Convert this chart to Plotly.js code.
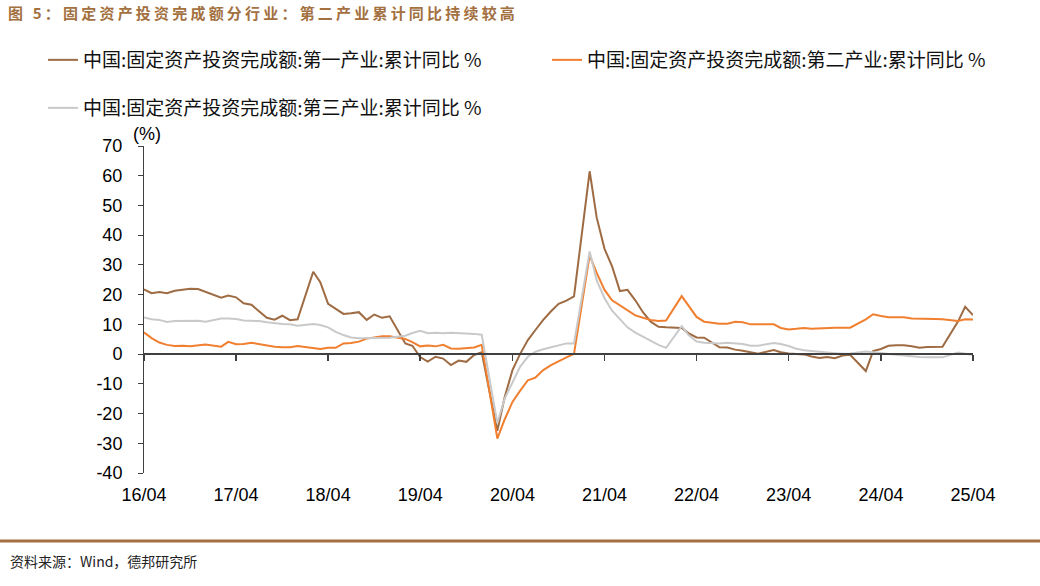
<!DOCTYPE html>
<html>
<head>
<meta charset="utf-8">
<script src="https://cdn.plot.ly/plotly-3.0.1.min.js"></script>
<style>
html, body { margin: 0; padding: 0; background: #fff; }
#chart { width: 1040px; height: 586px; }
.gtitle { letter-spacing: 3.2px; }
</style>
</head>
<body>
<div id="chart"></div>
<script>
// Months (January is not published, Jan-Feb are reported together)
const months = [
  '2016-04','2016-05','2016-06','2016-07','2016-08','2016-09','2016-10','2016-11','2016-12',
  '2017-02','2017-03','2017-04','2017-05','2017-06','2017-07','2017-08','2017-09','2017-10','2017-11','2017-12',
  '2018-02','2018-03','2018-04','2018-05','2018-06','2018-07','2018-08','2018-09','2018-10','2018-11','2018-12',
  '2019-02','2019-03','2019-04','2019-05','2019-06','2019-07','2019-08','2019-09','2019-10','2019-11','2019-12',
  '2020-02','2020-03','2020-04','2020-05','2020-06','2020-07','2020-08','2020-09','2020-10','2020-11','2020-12',
  '2021-02','2021-03','2021-04','2021-05','2021-06','2021-07','2021-08','2021-09','2021-10','2021-11','2021-12',
  '2022-02','2022-03','2022-04','2022-05','2022-06','2022-07','2022-08','2022-09','2022-10','2022-11','2022-12',
  '2023-02','2023-03','2023-04','2023-05','2023-06','2023-07','2023-08','2023-09','2023-10','2023-11','2023-12',
  '2024-02','2024-03','2024-04','2024-05','2024-06','2024-07','2024-08','2024-09','2024-10','2024-11','2024-12',
  '2025-02','2025-03','2025-04'
];

// 第一产业 累计同比 %
const primary = [
  21.8, 20.5, 20.9, 20.5, 21.3, 21.7, 22.0, 21.9, 21.0,
  19.0, 19.7, 19.1, 17.1, 16.6, 14.4, 12.2, 11.6, 12.9, 11.4, 11.7,
  27.7, 24.2, 16.9, 15.2, 13.5, 13.7, 14.1, 11.5, 13.3, 12.2, 12.7,
  3.6, 2.8, -1.0, -2.5, -0.9, -1.5, -3.7, -2.2, -2.6, -0.3, 0.6,
  -25.8, -14.5, -5.4, 0.0, 4.7, 8.1, 11.5, 14.4, 16.9, 18.0, 19.4,
  61.5, 45.9, 35.4, 29.5, 21.2, 21.6, 18.1, 14.0, 10.9, 9.2, 9.0,
  8.8, 7.0, 5.6, 5.5, 3.8, 2.3, 2.2, 1.5, 1.1, 0.6, 0.1,
  1.4, 0.6, 0.2, 0.1, -0.1, -0.8, -1.3, -1.0, -1.4, -0.5, -0.2,
  -5.7, 1.0, 1.7, 2.8, 3.0, 3.0, 2.6, 2.1, 2.4, 2.4, 2.5,
  11.0, 15.9, 13.1
];

// 第二产业 累计同比 %
const secondary = [
  7.3, 5.4, 3.9, 3.1, 2.7, 2.8, 2.6, 2.9, 3.2,
  2.5, 4.1, 3.3, 3.4, 3.8, 3.3, 3.0, 2.5, 2.3, 2.3, 2.7,
  2.0, 1.7, 2.1, 2.1, 3.6, 3.7, 4.2, 5.2, 5.6, 6.0, 6.0,
  5.1, 4.0, 2.6, 2.9, 2.6, 3.1, 1.9, 1.8, 2.0, 2.2, 3.1,
  -28.4, -22.0, -16.1, -12.4, -8.8, -7.9, -5.4, -3.7, -2.3, -1.1, 0.1,
  33.2, 27.3, 21.6, 18.1, 16.3, 14.6, 13.0, 12.2, 11.5, 11.1, 11.3,
  19.5, 16.0, 12.5, 10.9, 10.6, 10.2, 10.2, 10.9, 10.7, 10.0, 10.0,
  10.0, 8.8, 8.3, 8.5, 8.8, 8.5, 8.7, 8.9, 8.9, 8.9, 8.9,
  11.7, 13.4, 12.8, 12.4, 12.4, 12.4, 12.0, 12.0, 11.9, 11.8, 11.7,
  11.1, 11.7, 11.6
];

// 第三产业 累计同比 %
const tertiary = [
  12.3, 11.7, 11.5, 10.8, 11.1, 11.1, 11.3, 11.2, 10.9,
  12.0, 12.0, 11.8, 11.3, 11.3, 11.1, 10.7, 10.3, 10.1, 10.0, 9.5,
  10.1, 9.8, 9.0, 7.5, 6.4, 5.6, 5.3, 5.3, 5.3, 5.4, 5.5,
  6.2, 7.1, 7.8, 7.0, 7.2, 7.0, 7.2, 7.1, 7.0, 6.8, 6.5,
  -23.2, -15.0, -9.3, -4.3, -0.9, 0.8, 1.6, 2.3, 3.0, 3.6, 3.6,
  34.5, 24.8, 18.8, 14.6, 11.6, 9.0, 7.2, 5.8, 4.5, 3.1, 2.1,
  9.4, 6.3, 4.2, 3.8, 3.6, 3.6, 3.8, 3.6, 3.4, 2.8, 2.8,
  3.7, 3.4, 2.7, 1.8, 1.3, 1.0, 0.8, 0.6, 0.3, 0.1, 0.2,
  0.9, 0.7, 0.4, 0.0, -0.3, -0.6, -0.9, -1.0, -1.1, -1.2, -1.1,
  0.5, 0.0, -0.3
];

const seriesNames = [
  '中国:固定资产投资完成额:第一产业:累计同比 %',
  '中国:固定资产投资完成额:第二产业:累计同比 %',
  '中国:固定资产投资完成额:第三产业:累计同比 %'
];

const xTickVals = ['2016-04','2017-04','2018-04','2019-04','2020-04','2021-04','2022-04','2023-04','2024-04','2025-04'];
const xTickText = ['16/04','17/04','18/04','19/04','20/04','21/04','22/04','23/04','24/04','25/04'];
const yTickVals = [70, 60, 50, 40, 30, 20, 10, 0, -10, -20, -30, -40];
const yTickText = ['70','60','50','40','30','20','10','0','-10','-20','-30','-40'];

const titleText = '图 5：固定资产投资完成额分行业：第二产业累计同比持续较高';
const sourceText = '资料来源：Wind，德邦研究所';

const colors = ['#9E6B43', '#F07F2F', '#C9C9C9'];
const cjk = '"Noto Sans CJK SC", "Noto Sans", sans-serif';
const latin = '"Liberation Sans", Arial, sans-serif';

const traces = [primary, secondary, tertiary].map((vals, i) => ({
  type: 'scatter',
  mode: 'lines',
  x: months,
  y: vals,
  name: seriesNames[i],
  line: { color: colors[i], width: 2 },
  legend: i === 0 ? 'legend' : (i === 1 ? 'legend2' : 'legend3'),
  hoverinfo: 'skip'
}));

const W = 1040, H = 586;
const plotL = 144, plotR = 973, plotT = 146, plotB = 473;
const pw = plotR - plotL, ph = plotB - plotT;

const legendFont = { family: cjk, size: 19, color: '#111' };
function legendAt(xpx, ypx) {
  return {
    xref: 'container', yref: 'container',
    x: xpx / W, y: 1 - ypx / H,
    xanchor: 'left', yanchor: 'middle',
    orientation: 'h',
    font: legendFont,
    bgcolor: 'rgba(0,0,0,0)',
    borderwidth: 0
  };
}

const layout = {
  width: W, height: H,
  paper_bgcolor: '#fff',
  plot_bgcolor: '#fff',
  margin: { l: plotL, r: W - plotR, t: plotT, b: H - plotB, pad: 0 },
  showlegend: true,
  title: {
    text: titleText,
    xref: 'container', yref: 'container',
    x: 8 / W, xanchor: 'left',
    y: 1 - 14 / H, yanchor: 'middle',
    font: { family: cjk, size: 15, color: '#A3703F', weight: 'bold' }
  },
  legend: legendAt(43, 60),
  legend2: legendAt(547, 60),
  legend3: legendAt(43, 108),
  xaxis: {
    type: 'date',
    range: ['2016-04-01', '2025-04-01'],
    anchor: 'free',
    position: 40 / 110,
    showline: true,
    linecolor: '#404040',
    linewidth: 2,
    ticks: 'outside',
    ticklen: 6,
    tickwidth: 1.5,
    tickcolor: '#404040',
    tickvals: xTickVals,
    ticktext: xTickText,
    ticklabelstandoff: 118,
    tickfont: { family: latin, size: 18, color: '#000' },
    showgrid: false,
    zeroline: false,
    fixedrange: true
  },
  yaxis: {
    range: [-40, 70],
    domain: [0, 1],
    showline: true,
    linecolor: '#404040',
    linewidth: 1,
    ticks: 'outside',
    ticklen: 5,
    tickcolor: '#404040',
    tickvals: yTickVals,
    ticktext: yTickText,
    ticklabelstandoff: 12,
    tickfont: { family: latin, size: 18, color: '#000' },
    showgrid: false,
    zeroline: false,
    fixedrange: true
  },
  annotations: [
    {
      text: '(%)', xref: 'paper', yref: 'paper',
      x: (147 - plotL) / pw, y: (plotB - 134) / ph,
      xanchor: 'center', yanchor: 'middle', showarrow: false,
      font: { family: latin, size: 18, color: '#000' }
    },
    {
      text: sourceText, xref: 'paper', yref: 'paper',
      x: (8 - plotL) / pw, y: (plotB - 561) / ph,
      xanchor: 'left', yanchor: 'middle', showarrow: false,
      font: { family: cjk, size: 14, color: '#222' }
    }
  ],
  shapes: [
    {
      type: 'line', xref: 'paper', yref: 'paper',
      x0: (0 - plotL) / pw, x1: (W - plotL) / pw,
      y0: (plotB - 541) / ph, y1: (plotB - 541) / ph,
      line: { color: '#A3703F', width: 3 }
    }
  ]
};

Plotly.newPlot('chart', traces, layout, { staticPlot: true, displayModeBar: false });
</script>
</body>
</html>
